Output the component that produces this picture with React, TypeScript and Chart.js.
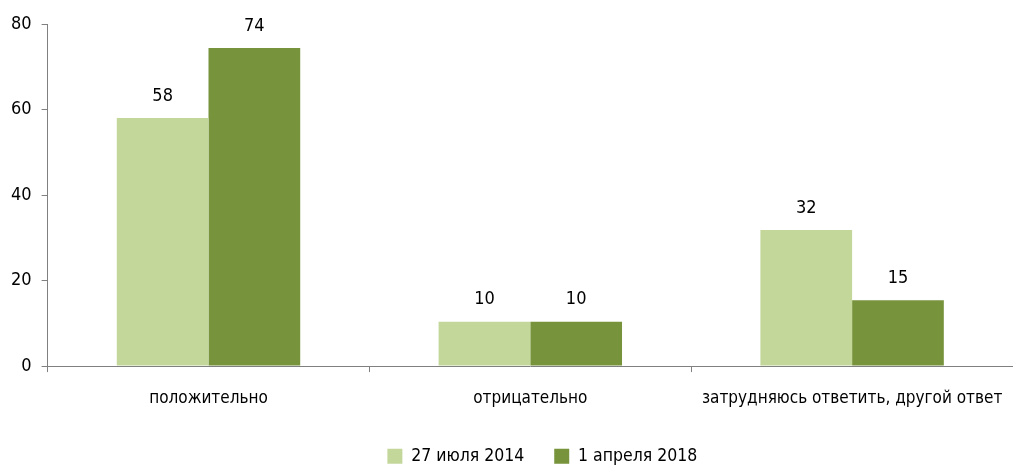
import React, { useEffect, useRef } from "react";
import { Chart, registerables } from "chart.js";

Chart.register(...registerables);

const categories = ["положительно", "отрицательно", "затрудняюсь ответить, другой ответ"];
const series2014 = [58, 10.4, 31.8];
const series2018 = [74.4, 10.4, 15.4];
const seriesNames = ["27 июля 2014", "1 апреля 2018"];
const yTicks = [0, 20, 40, 60, 80];

const FONT = "'DejaVu Sans Condensed', 'Liberation Sans Narrow', sans-serif";

const labelPlugin = {
  id: "barLabels",
  afterLayout(chart: any) {
    if (chart.legend) {
      chart.legend.left += 12;
      chart.legend.right += 12;
    }
  },
  afterDatasetsDraw(chart: any) {
    const ctx = chart.ctx;
    ctx.save();
    ctx.fillStyle = "#000";
    ctx.font = `18px ${FONT}`;
    ctx.textAlign = "center";
    ctx.textBaseline = "middle";
    chart.data.datasets.forEach((ds: any, di: number) => {
      const meta = chart.getDatasetMeta(di);
      meta.data.forEach((el: any, i: number) => {
        ctx.fillText(String(Math.round(ds.data[i])), el.x, el.y - 22);
      });
    });
    ctx.restore();
  },
};

export default function App() {
  const ref = useRef<HTMLCanvasElement>(null);
  useEffect(() => {
    document.body.style.margin = "0";
    const chart = new Chart(ref.current!, {
      type: "bar",
      data: {
        labels: categories,
        datasets: [
          { label: seriesNames[0], data: series2014, backgroundColor: "#c4d79b" },
          { label: seriesNames[1], data: series2018, backgroundColor: "#77933c" },
        ],
      },
      options: {
        animation: false,
        responsive: false,
        layout: { padding: { top: 24, left: 1, right: -6, bottom: -7 } },
        datasets: { bar: { categoryPercentage: 0.57, barPercentage: 1 } },
        scales: {
          x: {
            grid: { drawOnChartArea: false, drawTicks: true, tickLength: 6, color: "#808080", offset: true },
            border: { color: "#808080", width: 1 },
            ticks: { color: "#000", font: { family: FONT, size: 17 }, padding: 16 },
            afterFit: (axis: any) => {
              axis.height -= 7;
              axis.paddingLeft = 0;
              axis.paddingRight = 0;
            },
          },
          y: {
            min: 0,
            max: 80,
            afterBuildTicks: (axis: any) => {
              axis.ticks = yTicks.map((v) => ({ value: v }));
            },
            grid: { drawOnChartArea: false, drawTicks: true, tickLength: 6, color: "#808080" },
            border: { color: "#808080", width: 1 },
            ticks: { color: "#000", font: { family: FONT, size: 18 }, padding: 10 },
          },
        },
        plugins: {
          tooltip: { enabled: false },
          legend: {
            position: "bottom",
            fullSize: false,
            labels: {
              color: "#000",
              font: { family: FONT, size: 17.5 },
              boxWidth: 15,
              boxHeight: 15,
              padding: 30,
              useBorderRadius: false,
            },
          },
        },
      },
      plugins: [labelPlugin],
    });
    return () => chart.destroy();
  }, []);
  return <canvas ref={ref} width={1013} height={468} style={{ display: "block" }} />;
}
